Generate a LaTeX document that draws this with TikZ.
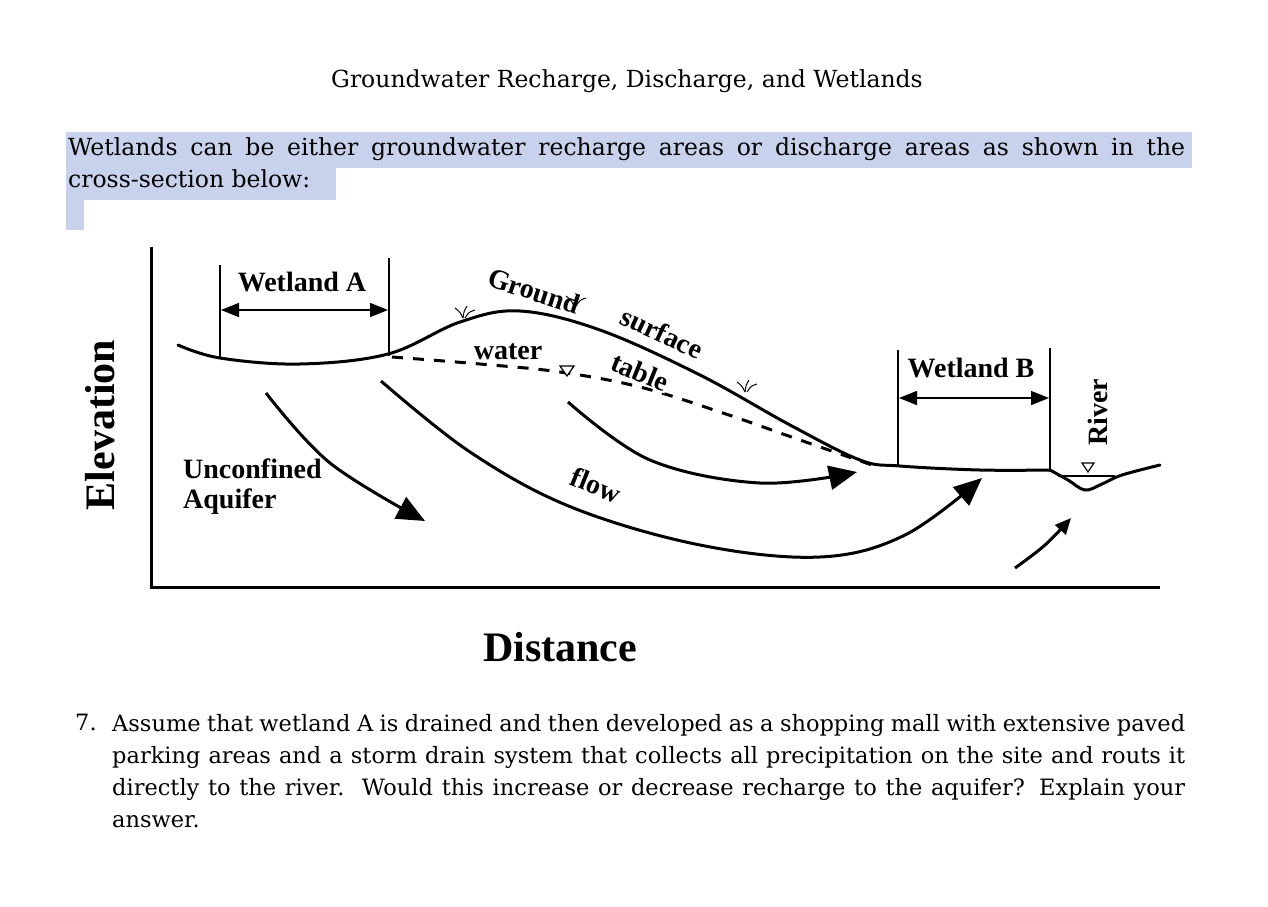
\documentclass[tikz,border=0pt]{standalone}
\usepackage{fontspec}
\setmainfont{Liberation Serif}
\newfontfamily\bodyfont{DejaVu Serif}
\usetikzlibrary{arrows.meta}
\definecolor{hl}{RGB}{200,210,236}
\begin{document}
\begin{tikzpicture}[x=1pt,y=-1pt,
  lab/.style={font=\fontsize{28}{30}\selectfont\bfseries},
  body/.style={font=\bodyfont\fontsize{23.5}{32}\selectfont},
  qbody/.style={font=\bodyfont\fontsize{22.5}{32}\selectfont},
  ln/.style={line width=3pt,line cap=round},
  thin/.style={line width=1.2pt},
  fl/.style={line width=3pt,-{Triangle[length=28pt,width=24pt]}},
  dim/.style={line width=1.5pt,{Triangle[length=18pt,width=14pt]}-{Triangle[length=18pt,width=14pt]}},
  tuft/.style={line width=1pt}]
\useasboundingbox (0,0) rectangle (1268,906);
\fill[white] (0,0) rectangle (1268,906);
% highlights
\fill[hl] (66,132) rectangle (1192,168);
\fill[hl] (66,168) rectangle (336,200);
\fill[hl] (66,200) rectangle (84,230);
\node[body,anchor=center] (title) at (627,81) {Groundwater Recharge, Discharge, and Wetlands};
\node[body,anchor=north west,inner sep=0pt,text width=1117pt,align=justify] (intro) at (68,137)
 {Wetlands can be either groundwater recharge areas or discharge areas as shown in the\linebreak cross-section below:};
% axes
\draw[ln,line cap=butt] (151,247) -- (151,587) -- (1160,587);
\node[font=\fontsize{42}{42}\selectfont\bfseries,rotate=90] (elev) at (100,425) {Elevation};
\node[font=\fontsize{42}{42}\selectfont\bfseries] (dist) at (560,647) {Distance};
% ground surface
\draw[ln] plot[smooth,tension=0.6] coordinates {(178,345) (220,358) (300,364) (388,354) (460,322) (520,311) (600,330) (700,375) (790,425) (860,460) (900,466) (980,470) (1050,470)};
\draw[ln] plot[smooth,tension=0.6] coordinates {(1050,470) (1068,480) (1085,490) (1102,484) (1122,475) (1160,465)};
\draw[thin] (1058,476) -- (1115,476);
\draw[thin] (1082,463) -- (1094,463) -- (1088,472) -- cycle;
\node[lab,rotate=90] (river) at (1098,412) {River};
% water table
\draw[line width=3pt,dash pattern=on 11pt off 10pt] plot[smooth,tension=0.6] coordinates {(392,357) (480,364) (560,372) (640,387) (720,412) (800,440) (872,465)};
\draw[thin,fill=white] (560,366) -- (574,366) -- (567,376) -- cycle;
\node[lab] (water) at (508,352) {water};
\node[lab,rotate=-22,fill=white,inner sep=1pt] (table) at (640,372) {table};
\node[lab,rotate=-18] (ground) at (534,291) {Ground};
\node[lab,rotate=-25] (surface) at (662,333) {surface};
\node[lab,rotate=-22] (flow) at (596,485) {flow};
\node[lab,anchor=west,align=left,inner sep=0pt] (unc) at (183,487) {Unconfined\\Aquifer};
% tufts
\foreach \x/\y in {463/318,574/306,745/392}{
  \draw[tuft] (\x,\y) .. controls (\x-3,\y-6) .. (\x-8,\y-10);
  \draw[tuft] (\x,\y) .. controls (\x+1,\y-7) .. (\x+4,\y-12);
  \draw[tuft] (\x+2,\y) .. controls (\x+6,\y-6) .. (\x+12,\y-8);
}
% wetland A
\draw[thin] (220,265) -- (220,358);
\draw[thin] (389,258) -- (389,356);
\draw[dim] (221,310) -- (388,310);
\node[lab] (wa) at (302,282) {Wetland A};
% wetland B
\draw[thin] (898,350) -- (898,467);
\draw[thin] (1050,348) -- (1050,472);
\draw[dim] (899,398) -- (1049,398);
\node[lab] (wb) at (971,368) {Wetland B};
% flow arrows
\draw[fl] plot[smooth,tension=0.6] coordinates {(266,393) (330,463) (425,521)};
\draw[fl] plot[smooth,tension=0.6] coordinates {(381,381) (470,452) (571,507) (700,545) (820,557) (905,535) (982,478)};
\draw[fl] plot[smooth,tension=0.6] coordinates {(568,402) (650,460) (760,483) (857,472)};
\draw[fl,-{Triangle[length=16pt,width=14pt]}] plot[smooth,tension=0.6] coordinates {(1015,568) (1045,545) (1071,518)};
% question
\node[qbody,anchor=north west,inner sep=0pt] (num) at (75,714) {7.};
\node[qbody,anchor=north west,inner sep=0pt,text width=1073pt,align=justify] (q) at (112,714)
 {Assume that wetland A is drained and then developed as a shopping mall with extensive paved\linebreak parking areas and a storm drain system that collects all precipitation on the site and routs it\linebreak directly to the river.\ \ Would this increase or decrease recharge to the aquifer? Explain your\linebreak answer.};
\end{tikzpicture}
\end{document}
